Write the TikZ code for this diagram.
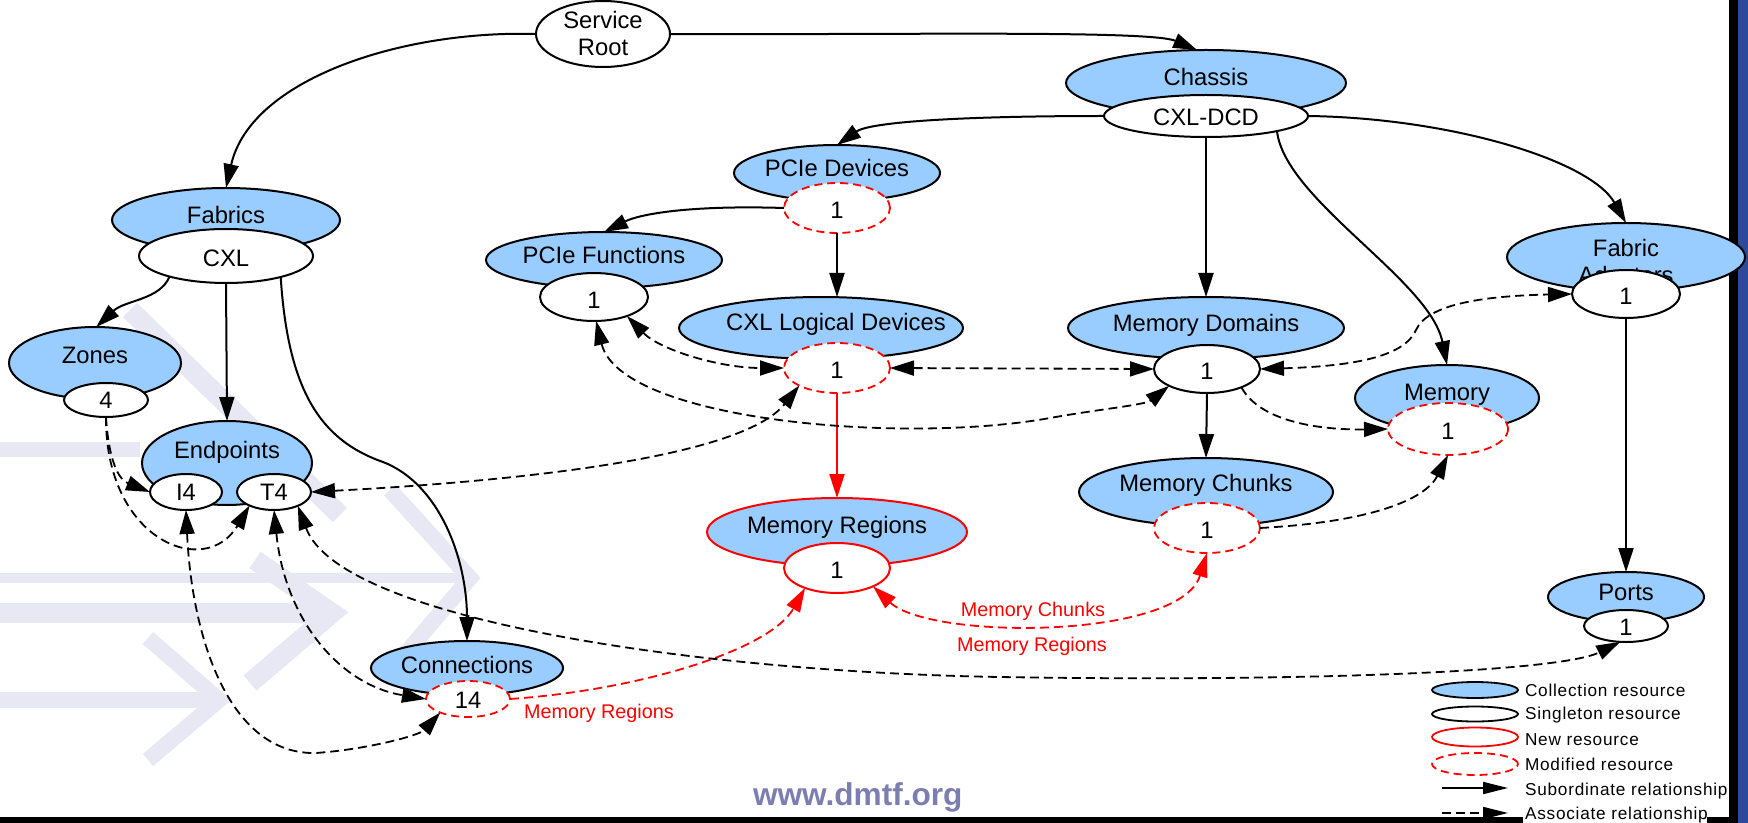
\documentclass[tikz,border=0pt]{standalone}
\usepackage{fontspec}
\setmainfont{Liberation Sans}
\usetikzlibrary{shapes.geometric,arrows.meta}
\definecolor{collblue}{RGB}{153,204,255}
\definecolor{newred}{RGB}{255,0,0}
\definecolor{wmark}{RGB}{232,232,244}
\definecolor{dmtfgray}{RGB}{124,126,178}
\definecolor{barblue}{RGB}{44,74,156}
\newfontfamily\legendfont[LetterSpace=4.5]{Liberation Sans}

\begin{document}
\begin{tikzpicture}[x=0.5pt,y=-0.5pt,
  every node/.style={inner sep=0pt,outer sep=0pt},
  coll/.style={ellipse,draw=black,line width=1pt,fill=collblue},
  single/.style={ellipse,draw=black,line width=1pt,fill=white},
  newcoll/.style={ellipse,draw=newred,line width=1pt,fill=collblue},
  newsingle/.style={ellipse,draw=newred,line width=1pt,fill=white},
  modsingle/.style={ellipse,draw=newred,line width=0.9pt,dash pattern=on 4pt off 2.5pt,fill=white},
  lbl/.style={font=\fontsize{11.9}{13.5}\selectfont,text height=8.6pt,text depth=0pt},
  lbltwo/.style={font=\fontsize{11.9}{13.5}\selectfont,align=center},
  redlbl/.style={font=\fontsize{9.9}{12}\selectfont,text=newred,text height=7.1pt,text depth=0pt},
  leglbl/.style={font=\fontsize{8.6}{10}\legendfont,anchor=west,text height=6pt,text depth=0pt},
  >={Triangle[length=12pt,width=7.5pt]},
  subrel/.style={line width=1pt,->},
  assoc/.style={line width=0.9pt,dash pattern=on 4.5pt off 2.5pt},
]
\useasboundingbox (0,0) rectangle (1748,823);

% watermark arrows in the background
\begin{scope}[wmark]
  \fill (0,442) rectangle (140,457);
  \fill (0,573) rectangle (470,583);
  \fill (0,603) rectangle (325,623);
  \fill (0,692) rectangle (215,708);
  \draw[line width=10pt] (255,560) -- (332,613) -- (250,683);
  \draw[line width=8pt] (148,638) -- (219,700) -- (148,760);
  \draw[line width=10pt] (130,310) -- (340,515);
  \draw[line width=8pt] (390,490) -- (470,578) -- (400,660);
\end{scope}

% slide frame
\fill[black] (1729,0) rectangle (1738,823);
\fill[barblue] (1738,0) rectangle (1748,823);
\fill[black] (0,817) rectangle (1738,823);
\fill[white] (1523,805) rectangle (1707,823);
\node[font=\fontsize{15.8}{18}\selectfont\bfseries,text=dmtfgray,anchor=base west] (site) at (753,805) {www.dmtf.org};

% service root
\node[single,minimum width=67pt,minimum height=33pt] (sr) at (603,34) {};
\node[lbltwo] (srl) at (603,33) {Service\\Root};

% chassis
\node[coll,minimum width=140pt,minimum height=33pt] (chassis) at (1206,83) {};
\node[lbl] (chassisl) at (1206,77) {Chassis};
\node[single,minimum width=102pt,minimum height=21pt] (dcd) at (1206,116) {};
\node[lbl] (dcdl) at (1206,117) {CXL-DCD};

% fabrics
\node[coll,minimum width=114pt,minimum height=32pt] (fabrics) at (226,220) {};
\node[lbl] (fabricsl) at (226,215) {Fabrics};
\node[single,minimum width=87pt,minimum height=27pt] (cxl) at (226,256) {};
\node[lbl] (cxll) at (226,258) {CXL};

% zones
\node[coll,minimum width=86pt,minimum height=36pt] (zones) at (95,363) {};
\node[lbl] (zonesl) at (95,355) {Zones};
\node[single,minimum width=42pt,minimum height=17pt] (zn4) at (106,400) {};
\node[lbl] (zn4l) at (106,400) {4};

% endpoints
\node[coll,minimum width=85pt,minimum height=42pt] (endpoints) at (227,463) {};
\node[lbl] (endpointsl) at (227,450) {Endpoints};
\node[single,minimum width=36pt,minimum height=18pt] (i4) at (186,492) {};
\node[lbl] (i4l) at (186,492) {I4};
\node[single,minimum width=37pt,minimum height=18pt] (t4) at (274,492) {};
\node[lbl] (t4l) at (274,492) {T4};

% PCIe devices
\node[coll,minimum width=103pt,minimum height=28pt] (pcied) at (837,173) {};
\node[lbl] (pciedl) at (837,168) {PCIe Devices};
\node[modsingle,minimum width=53pt,minimum height=25pt] (pcied1) at (837,208) {};
\node[lbl] (pcied1l) at (837,210) {1};

% PCIe functions
\node[coll,minimum width=118pt,minimum height=28pt] (pcief) at (604,260) {};
\node[lbl] (pciefl) at (604,255) {PCIe Functions};
\node[single,minimum width=54pt,minimum height=24pt] (pcief1) at (594,297) {};
\node[lbl] (pcief1l) at (594,300) {1};

% CXL logical devices
\node[coll,minimum width=142pt,minimum height=31pt] (cxlld) at (821,328) {};
\node[lbl] (cxlldl) at (836,322) {CXL Logical Devices};
\node[modsingle,minimum width=53pt,minimum height=25pt] (cxlld1) at (837,368) {};
\node[lbl] (cxlld1l) at (837,370) {1};

% memory domains
\node[coll,minimum width=138pt,minimum height=31pt] (md) at (1206,328) {};
\node[lbl] (mdl) at (1206,323) {Memory Domains};
\node[single,minimum width=53pt,minimum height=24pt] (md1) at (1207,369) {};
\node[lbl] (md1l) at (1207,371) {1};

% memory
\node[coll,minimum width=92pt,minimum height=33pt] (mem) at (1447,398) {};
\node[lbl] (meml) at (1447,392) {Memory};
\node[modsingle,minimum width=60pt,minimum height=26pt] (mem1) at (1448,429) {};
\node[lbl] (mem1l) at (1448,431) {1};

% memory chunks
\node[coll,minimum width=127pt,minimum height=34pt] (mc) at (1206,492) {};
\node[lbl] (mcl) at (1206,483) {Memory Chunks};
\node[modsingle,minimum width=53pt,minimum height=25pt] (mc1) at (1207,528) {};
\node[lbl] (mc1l) at (1207,530) {1};

% memory regions
\node[newcoll,minimum width=130pt,minimum height=34pt] (mr) at (837,532) {};
\node[lbl] (mrl) at (837,525) {Memory Regions};
\node[newsingle,minimum width=53pt,minimum height=25pt] (mr1) at (837,568) {};
\node[lbl] (mr1l) at (837,570) {1};

% fabric adapters
\node[coll,minimum width=119pt,minimum height=34pt] (fa) at (1626,257) {};
\node[lbltwo] (fal) at (1626,264) {Fabric\\Adapters};
\node[single,minimum width=54pt,minimum height=24pt] (fa1) at (1626,294) {};
\node[lbl] (fa1l) at (1626,296) {1};

% ports
\node[coll,minimum width=78pt,minimum height=25pt] (ports) at (1626,597) {};
\node[lbl] (portsl) at (1626,592) {Ports};
\node[single,minimum width=42pt,minimum height=16pt] (ports1) at (1626,626) {};
\node[lbl] (ports1l) at (1626,627) {1};

% connections
\node[coll,minimum width=96pt,minimum height=27pt] (conn) at (467,668) {};
\node[lbl] (connl) at (467,665) {Connections};
\node[modsingle,minimum width=42pt,minimum height=18pt] (conn14) at (468,699) {};
\node[lbl] (conn14l) at (468,700) {14};

% subordinate relationships
\draw[subrel] (sr.west) .. controls (400,30) and (250,80) .. (fabrics.north);
\draw[subrel] (sr.east) .. controls (900,35) and (1150,30) .. (chassis.105);
\draw[subrel] (dcd.west) .. controls (960,116) and (870,122) .. (pcied.north);
\draw[subrel] (dcd.south) -- (md.north);
\draw[subrel] (dcd.east) .. controls (1450,118) and (1590,160) .. (fa.north);
\draw[subrel] (dcd.-12) .. controls (1285,200) and (1430,280) .. (mem.north);
\draw[subrel] (pcied1.west) .. controls (690,205) and (640,214) .. (pcief.north);
\draw[subrel] (pcied1.south) -- (pcied1.south |- cxlld.north);
\draw[subrel] (cxl.200) .. controls (160,300) and (125,300) .. (zones.88);
\draw[subrel] (cxl.south) -- (endpoints.north);
\draw[subrel] (cxl.-21) .. controls (288,390) and (320,440) .. (383,462)
  .. controls (440,484) and (467,560) .. (conn.north);
\draw[subrel] (fa1.south) -- (ports.north);
\draw[subrel] (md1.south) -- (mc.north);
\draw[subrel,newred] (cxlld1.south) -- (mr.north);

% associate relationships
\draw[assoc,<->] (pcief1.-30) .. controls (660,350) and (720,368) .. (cxlld1.west);
\draw[assoc,<->] (pcief1.-85) .. controls (620,420) and (900,445) .. (1050,418)
  .. controls (1100,409) and (1145,405) .. (md1.204);
\draw[assoc,<->] (cxlld1.east) -- (md1.west);
\draw[assoc,<->] (md1.east) .. controls (1360,366) and (1405,355) .. (1416,330)
  .. controls (1427,305) and (1480,296) .. (fa1.west);
\draw[assoc,->] (md1.-28) .. controls (1262,425) and (1330,430) .. (mem1.west);
\draw[assoc,->] (mc1.east) .. controls (1370,522) and (1425,500) .. (mem1.south);
\draw[assoc,newred,<->] (mr1.-27) .. controls (930,640) and (1180,640) .. (mc1.south);
\draw[assoc,newred,->] (conn14.east) .. controls (640,690) and (770,650) .. (mr1.212);
\draw[assoc,<->] (t4.east) .. controls (500,482) and (740,460) .. (cxlld1.205);
\draw[assoc,<->] (t4.-30) .. controls (340,620) and (700,672) .. (1000,677)
  .. controls (1300,682) and (1560,672) .. (ports1.-110);
\draw[assoc,->] (zn4.south) .. controls (108,450) and (115,478) .. (i4.west);
\draw[assoc,->] (zn4.south) .. controls (105,540) and (205,580) .. (t4.209);
\draw[assoc,<->] (i4.south) .. controls (192,640) and (230,755) .. (316,753)
  .. controls (370,749) and (420,735) .. (conn14.206);
\draw[assoc,<->] (t4.south) .. controls (285,620) and (340,685) .. (conn14.west);

% relationship labels
\node[redlbl] (mrmcl) at (1033,609) {Memory Chunks};
\node[redlbl] (mrmrl) at (1032,644) {Memory Regions};
\node[redlbl] (connmrl) at (599,711) {Memory Regions};

% legend
\node[coll,line width=0.9pt,minimum width=43pt,minimum height=8pt] (legcoll) at (1475,690) {};
\node[single,line width=0.9pt,minimum width=43pt,minimum height=7.5pt] (legsingle) at (1475,714) {};
\node[newsingle,line width=0.9pt,minimum width=43pt,minimum height=9.5pt] (legnew) at (1475,737) {};
\node[modsingle,minimum width=43pt,minimum height=11pt] (legmod) at (1475,764) {};
\coordinate (legsubA) at (1442,788);
\coordinate (legsubB) at (1508,788);
\coordinate (legassA) at (1442,813);
\coordinate (legassB) at (1508,813);
\draw[line width=0.9pt,-{Triangle[length=12.5pt,width=6pt]}] (legsubA) -- (legsubB);
\draw[assoc,-{Triangle[length=12.5pt,width=6pt]}] (legassA) -- (legassB);
\node[leglbl] (legcolll) at (1525,690) {Collection resource};
\node[leglbl] (legsinglel) at (1525,713) {Singleton resource};
\node[leglbl] (legnewl) at (1525,739) {New resource};
\node[leglbl] (legmodl) at (1525,764) {Modified resource};
\node[leglbl] (legsubl) at (1525,789) {Subordinate relationship};
\node[leglbl] (legassl) at (1525,813) {Associate relationship};
\end{tikzpicture}
\end{document}
